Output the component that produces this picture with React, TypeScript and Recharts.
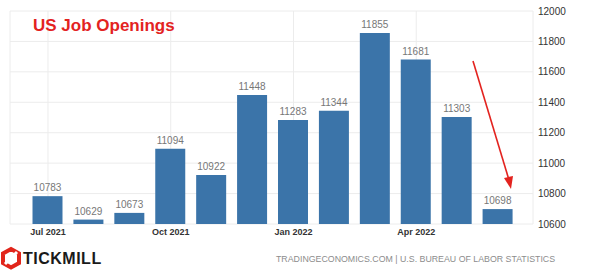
import React from 'react'
import { BarChart, Bar, XAxis, YAxis, CartesianGrid, LabelList } from 'recharts'

const months = [
    'Jul 2021', 'Aug 2021', 'Sep 2021', 'Oct 2021', 'Nov 2021', 'Dec 2021',
    'Jan 2022', 'Feb 2022', 'Mar 2022', 'Apr 2022', 'May 2022', 'Jun 2022',
];
const openings = [10783, 10629, 10673, 11094, 10922, 11448, 11283, 11344, 11855, 11681, 11303, 10698];
const yTicks = [10600, 10800, 11000, 11200, 11400, 11600, 11800, 12000];

const BAR = '#3b74a9';
const RED = '#e3231f';
const FONT = '"Liberation Sans", Arial, sans-serif';

export default function App() {
    const data = months.map((month, i) => ({ month, value: openings[i] }));

    return (
        <div style={{ position: 'absolute', left: 0, top: 0, width: 602, height: 270, background: '#fff', fontFamily: FONT }}>
            <BarChart width={602} height={270} data={data} margin={{ top: 11, right: 5, bottom: 16, left: 10 }}>
                <CartesianGrid stroke="#ececec" strokeWidth={1} />
                <XAxis
                    dataKey="month"
                    interval={2}
                    padding={{ left: 17.5, right: 14.5 }}
                    axisLine={false}
                    tickLine={false}
                    tickSize={0}
                    tickMargin={5}
                    height={30}
                    tick={{ fill: '#333', fontSize: 9, fontWeight: 700, fontFamily: FONT }}
                />
                <YAxis
                    orientation="right"
                    domain={[10600, 12000]}
                    ticks={yTicks}
                    axisLine={false}
                    tickLine={false}
                    tickSize={0}
                    tickMargin={5}
                    width={64}
                    tick={{ fill: '#333', fontSize: 10, fontFamily: FONT, textAnchor: 'start' }}
                />
                <Bar dataKey="value" fill={BAR} barSize={30} isAnimationActive={false}>
                    <LabelList dataKey="value" position="top" offset={5} fill="#777" fontSize={10} fontFamily={FONT} />
                </Bar>
            </BarChart>

            <svg width={602} height={270} style={{ position: 'absolute', left: 0, top: 0, pointerEvents: 'none' }}>
                <text x={33} y={31} fill={RED} fontSize={17} fontWeight={700} fontFamily={FONT}>US Job Openings</text>

                {/* annotation arrow */}
                <line x1={473} y1={61} x2={509} y2={180} stroke={RED} strokeWidth={1.6} />
                <polygon points="511,189 504,178 513,176" fill={RED} />

                {/* logo */}
                <polygon points="11,249 19,253.5 19,263 11,267.5 3,263 3,253.5" fill="none" stroke="#e1251b" strokeWidth={4} />
                <line x1={5} y1={264} x2={17} y2={252} stroke="#fff" strokeWidth={3} />
                <text x={23} y={264} fill="#1a1a1a" fontSize={16} fontWeight={700} letterSpacing={0.5} fontFamily={FONT}>TICKMILL</text>

                <text x={276} y={262} fill="#8c8c8c" fontSize={8.8} fontFamily={FONT}>TRADINGECONOMICS.COM | U.S. BUREAU OF LABOR STATISTICS</text>
            </svg>
        </div>
    )
}
